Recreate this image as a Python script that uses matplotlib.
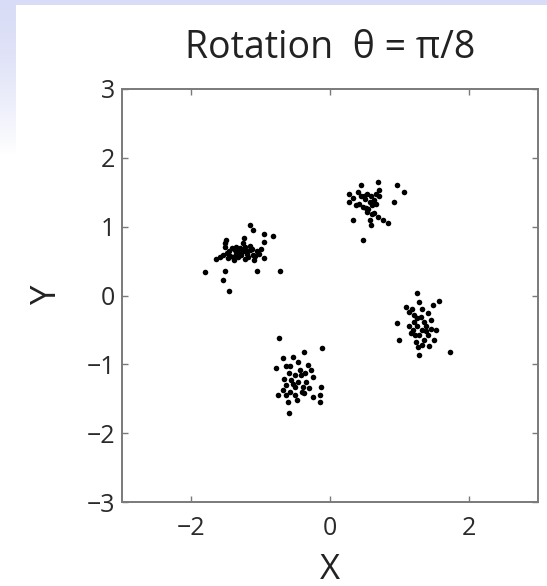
import numpy as np
import matplotlib
matplotlib.use("Agg")
import matplotlib.pyplot as plt

plt.rcParams['font.family'] = ['Open Sans', 'DejaVu Sans']

# ---- data ----
c1_x = [-1.81, -1.46, -1.54, -1.51, -1.65, -1.05, -0.72, -0.95, -1.15, -1.11, -0.95, -0.82,
        -0.95, -1.24, -1.50, -1.52, -1.54, -1.45, -1.40, -1.35, -1.30, -1.28, -1.23, -1.21,
        -1.16, -1.11, -1.06, -1.02, -1.47, -1.38, -1.09, -1.42, -1.33, -1.26, -1.59, -1.18,
        -1.52, -1.25, -1.35, -1.15, -1.00,
        -1.44, -1.31, -1.19, -1.08, -1.37, -1.22, -1.49, -1.13]
c1_y = [0.34, 0.07, 0.23, 0.36, 0.53, 0.36, 0.35, 0.55, 1.02, 0.95, 0.89, 0.87,
        0.77, 0.84, 0.81, 0.71, 0.59, 0.64, 0.56, 0.61, 0.69, 0.59, 0.71, 0.64,
        0.66, 0.59, 0.64, 0.61, 0.54, 0.52, 0.52, 0.69, 0.56, 0.76, 0.56, 0.56,
        0.76, 0.65, 0.70, 0.72, 0.68,
        0.58, 0.64, 0.61, 0.57, 0.66, 0.53, 0.62, 0.68]

c2_x = [0.69, 0.45, 0.97, 1.07, 0.71, 0.66, 0.54, 0.40, 0.28, 0.28, 0.37, 0.47, 0.57,
        0.64, 0.71, 0.93, 0.33, 0.54, 0.61, 0.69, 0.57, 0.59, 0.83, 0.47, 0.52, 0.61,
        0.76, 0.49,
        0.33, 0.42, 0.50, 0.59, 0.66, 0.55, 0.64, 0.45]
c2_y = [1.65, 1.61, 1.61, 1.51, 1.53, 1.48, 1.48, 1.51, 1.48, 1.36, 1.31, 1.29, 1.36,
        1.39, 1.44, 1.36, 1.10, 1.22, 1.19, 1.14, 1.10, 1.02, 1.05, 0.80, 1.27, 1.31,
        1.10, 1.44,
        1.42, 1.33, 1.40, 1.45, 1.33, 1.25, 1.20, 1.45]

c3_x = [1.25, 1.29, 1.57, 1.48, 1.09, 1.14, 1.21, 1.31, 1.41, 1.45, 1.36, 0.97, 1.14,
        1.26, 1.33, 1.53, 1.17, 1.29, 1.41, 1.00, 1.50, 1.24, 1.33, 1.43, 1.29, 1.73,
        1.19, 1.38, 1.21,
        1.18, 1.33, 1.25, 1.38, 1.22, 1.45, 1.35, 1.27]
c3_y = [0.04, -0.10, -0.08, -0.14, -0.16, -0.24, -0.28, -0.31, -0.26, -0.36, -0.38, -0.40, -0.45,
        -0.45, -0.50, -0.50, -0.55, -0.57, -0.57, -0.65, -0.65, -0.67, -0.72, -0.74, -0.86, -0.82,
        -0.50, -0.45, -0.38,
        -0.20, -0.20, -0.33, -0.52, -0.58, -0.48, -0.64, -0.75]

c4_x = [-0.73, -0.11, -0.37, -0.68, -0.54, -0.46, -0.78, -0.63, -0.32, -0.27, -0.59, -0.51,
        -0.42, -0.25, -0.56, -0.46, -0.35, -0.63, -0.51, -0.39, -0.30, -0.13, -0.75, -0.63,
        -0.51, -0.37, -0.15, -0.14, -0.61, -0.59, -0.25, -0.68,
        -0.58, -0.43, -0.54, -0.41, -0.57, -0.48, -0.66, -0.36]
c4_y = [-0.62, -0.76, -0.82, -0.91, -0.89, -0.96, -1.06, -1.03, -1.01, -1.08, -1.13, -1.16,
        -1.16, -1.18, -1.23, -1.25, -1.25, -1.30, -1.33, -1.33, -1.35, -1.33, -1.45, -1.45,
        -1.45, -1.42, -1.45, -1.54, -1.54, -1.70, -1.47, -1.37,
        -1.02, -1.08, -1.28, -1.40, -1.40, -1.52, -1.22, -1.12]

xticks = [-2, 0, 2]
xticklabels = ["\u22122", "0", "2"]
yticks = [-3, -2, -1, 0, 1, 2, 3]
yticklabels = ["\u22123", "\u22122", "\u22121", "0", "1", "2", "3"]
title = "Rotation  \u03b8 = \u03c0/8"

W, H = 547, 586
fig = plt.figure(figsize=(W / 100, H / 100), dpi=100, facecolor="white")

# slide background decoration (light blue bands)
band = fig.add_axes([0, 1 - 5 / H, 1, 5 / H])
band.set_axis_off()
band.add_patch(plt.Rectangle((0, 0), 1, 1, color="#d9dcf6", transform=band.transAxes))
side = fig.add_axes([0, 1 - 155 / H, 16 / W, 155 / H])
side.set_axis_off()
grad = np.linspace(0, 1, 100)[:, None]
c_top = np.array([0.85, 0.865, 0.965])
c_bot = np.array([1.0, 1.0, 1.0])
wgt = grad[..., None] ** 1.6
img = c_top[None, None, :] * (1 - wgt) + c_bot[None, None, :] * wgt
side.imshow(img, aspect="auto", extent=[0, 1, 0, 1])

ax = fig.add_axes([122 / W, 84 / H, 416 / W, 413 / H])
for xs, ys in [(c1_x, c1_y), (c2_x, c2_y), (c3_x, c3_y), (c4_x, c4_y)]:
    ax.plot(xs, ys, "o", color="black", markersize=4.0, markeredgewidth=0)

ax.set_xlim(-3, 3)
ax.set_ylim(-3, 3)
ax.set_xticks(xticks)
ax.set_yticks(yticks)
ax.set_xticklabels(xticklabels)
ax.set_yticklabels(yticklabels)
gray = "#7a7a7a"
for s in ax.spines.values():
    s.set_color(gray)
    s.set_linewidth(1.4)
ax.tick_params(direction="in", length=4, width=1, color=gray, labelcolor="#2a2a2a",
               labelsize=18, top=True, right=True)
ax.tick_params(axis="x", pad=10)
ax.tick_params(axis="y", pad=5)
ax.set_xlabel("X", fontsize=25, color="#222222", labelpad=9)
ax.set_ylabel("Y", fontsize=25, color="#222222", labelpad=16)
ax.set_title(title, fontsize=27, color="#222222", pad=22)

fig.savefig("out.png", dpi=100, facecolor="white")
